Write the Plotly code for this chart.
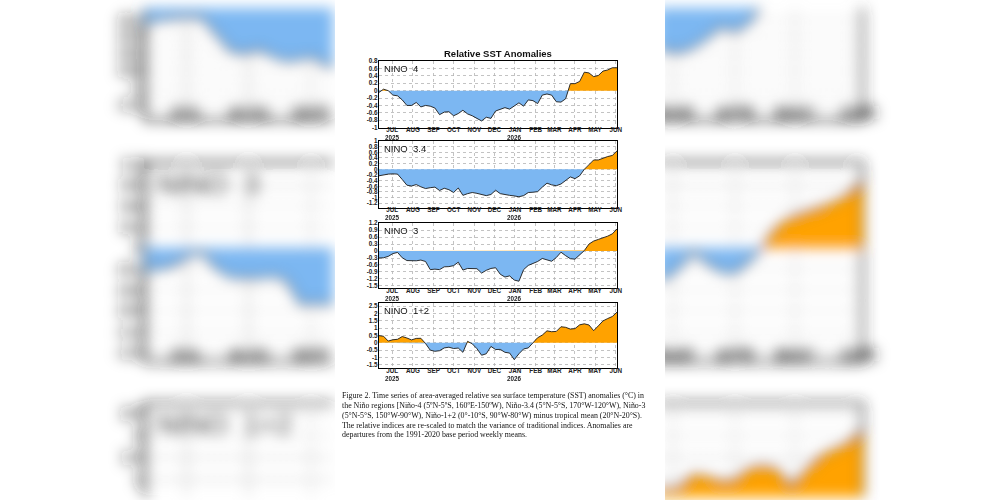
import json
import numpy as np
import pandas as pd
import plotly.graph_objects as go

W, H = 1000, 500

# ---------------- data ----------------
chart_title = "Relative SST Anomalies"
panel_labels = ["NINO  4", "NINO  3.4", "NINO  3", "NINO  1+2"]
week_dates = pd.date_range("2025-06-11", periods=52, freq="7D")
month_ticks = pd.date_range("2025-07-01", "2026-06-01", freq="MS")
month_labels = ["JUL", "AUG", "SEP", "OCT", "NOV", "DEC", "JAN", "FEB", "MAR", "APR", "MAY", "JUN"]
year_ticks = pd.to_datetime(["2025-07-01", "2026-01-01"])
year_labels = ["2025", "2026"]

nino4 = [-0.05, 0.04, 0.00, -0.12, -0.14, -0.25, -0.40, -0.40, -0.32, -0.44, -0.40, -0.42, -0.47,
         -0.65, -0.58, -0.57, -0.68, -0.62, -0.53, -0.63, -0.68, -0.76, -0.82, -0.72, -0.75, -0.55,
         -0.50, -0.46, -0.50, -0.42, -0.33, -0.42, -0.25, -0.27, -0.35, -0.12, -0.09, -0.12, -0.30,
         -0.31, -0.22, 0.19, 0.19, 0.25, 0.50, 0.48, 0.38, 0.41, 0.53, 0.56, 0.62, 0.62]
nino34 = [-0.23, -0.19, -0.17, -0.16, -0.17, -0.36, -0.56, -0.59, -0.54, -0.62, -0.68, -0.65, -0.63,
          -0.75, -0.67, -0.72, -0.82, -0.66, -0.92, -0.86, -0.82, -0.85, -0.90, -0.93, -0.89, -0.74,
          -0.86, -0.90, -0.92, -0.94, -0.97, -0.93, -0.82, -0.81, -0.79, -0.63, -0.49, -0.55, -0.58,
          -0.52, -0.41, -0.27, -0.33, -0.23, 0.00, 0.15, 0.33, 0.33, 0.40, 0.45, 0.49, 0.65]
nino3 = [-0.30, -0.29, -0.23, -0.11, -0.06, -0.29, -0.41, -0.42, -0.42, -0.39, -0.45, -0.80, -0.78,
         -0.80, -0.68, -0.67, -0.63, -0.48, -0.82, -0.75, -0.75, -0.76, -0.95, -0.83, -0.75, -0.72,
         -1.00, -1.12, -1.07, -1.25, -1.30, -0.80, -0.62, -0.55, -0.45, -0.32, -0.38, -0.44, -0.28,
         -0.05, -0.20, -0.33, -0.35, -0.18, 0.02, 0.30, 0.43, 0.50, 0.56, 0.64, 0.74, 0.95]
nino12 = [0.49, 0.45, 0.12, 0.21, 0.24, 0.43, 0.33, 0.20, 0.30, 0.31, -0.05, -0.50, -0.58, -0.54,
          -0.35, -0.30, -0.39, -0.36, -0.65, 0.10, -0.07, -0.40, -0.85, -0.75, -0.25, -0.46, -0.45,
          -0.65, -0.70, -1.15, -0.75, -0.42, -0.35, 0.00, 0.35, 0.53, 0.82, 0.76, 0.78, 1.10, 1.06,
          0.94, 0.97, 1.23, 1.30, 1.22, 0.83, 1.16, 1.50, 1.66, 1.80, 2.10]
series = [nino4, nino34, nino3, nino12]

y_ranges = [(-1.0, 0.8), (-1.35, 1.0), (-1.6, 1.2), (-1.75, 2.7)]
y_tickvals = [
    [0.8, 0.6, 0.4, 0.2, 0, -0.2, -0.4, -0.6, -0.8, -1.0],
    [1.0, 0.8, 0.6, 0.4, 0.2, 0, -0.2, -0.4, -0.6, -0.8, -1.0, -1.2],
    [1.2, 0.9, 0.6, 0.3, 0, -0.3, -0.6, -0.9, -1.2, -1.5],
    [2.5, 2.0, 1.5, 1.0, 0.5, 0, -0.5, -1.0, -1.5],
]
y_ticktext = [
    ["0.8", "0.6", "0.4", "0.2", "0", "-0.2", "-0.4", "-0.6", "-0.8", "-1"],
    ["1", "0.8", "0.6", "0.4", "0.2", "0", "-0.2", "-0.4", "-0.6", "-0.8", "-1", "-1.2"],
    ["1.2", "0.9", "0.6", "0.3", "0", "-0.3", "-0.6", "-0.9", "-1.2", "-1.5"],
    ["2.5", "2", "1.5", "1", "0.5", "0", "-0.5", "-1", "-1.5"],
]

caption_lines = [
    "Figure 2. Time series of area-averaged relative sea surface temperature (SST) anomalies (°C) in",
    "the Niño regions [Niño-4 (5ºN-5ºS, 160ºE-150ºW), Niño-3.4 (5°N-5°S, 170°W-120°W), Niño-3",
    "(5°N-5°S, 150°W-90°W), Niño-1+2 (0°-10°S, 90°W-80°W) minus tropical mean (20°N-20°S).",
    "The relative indices are re-scaled to match the variance of traditional indices. Anomalies are",
    "departures from the 1991-2020 base period weekly means.",
]

# ---------------- styling / layout ----------------
FONT = "Liberation Sans"
SERIF = "Liberation Serif"
ORANGE = "#ffa200"
BLUE = "#7cb7f2"
GRID = "#b4b4b4"
TICKC = "#222222"

BOX_L, BOX_R = 381.5, 624.5
BOX_TB = [(54.3, 122.3), (136.0, 204.0), (220.0, 286.5), (302.0, 368.5)]
SCALE = 3.0
CX, CY = 500.0, 250.0
STRIPS = [("L", 0.0, 335.0), ("R", 665.0, 1000.0)]
BLUR = 7
MONTH_STANDOFF = {1.0: -4, 3.0: -24}
YTICK_SIZE = {1.0: 6.3, 3.0: 16.0}

x_days = np.array((week_dates - week_dates[0]).days, dtype=float)
x_range = (x_days[0], x_days[-1])
month_vals = list((month_ticks - week_dates[0]).days)
year_vals = list((year_ticks - week_dates[0]).days)


def with_crossings(x, v):
    xa, va = [x[0]], [v[0]]
    for i in range(1, len(v)):
        a, b = v[i - 1], v[i]
        if a * b < 0:
            t = a / (a - b)
            xa.append(x[i - 1] + t * (x[i] - x[i - 1]))
            va.append(0.0)
        xa.append(x[i])
        va.append(b)
    return np.array(xa), np.array(va)


fig = go.Figure()
layout_axes = {}
annotations = []
blur_groups = {"L": [], "R": []}


def ax_names(k):
    return ("x" if k == 1 else f"x{k}", "y" if k == 1 else f"y{k}")


def add_panel(k, p, xpx, ypx, xr, yr, s, xopts, yopts, texts):
    xn, yn = ax_names(k)
    layout_axes["xaxis" if k == 1 else f"xaxis{k}"] = dict(
        domain=[xpx[0] / W, xpx[1] / W], range=list(xr), anchor=yn,
        tickmode="array", tickvals=month_vals, ticktext=month_labels,
        tickfont=dict(size=6.3 * s, family=FONT, color=TICKC, weight=600),
        ticklabelstandoff=MONTH_STANDOFF[s],
        showgrid=True, gridcolor=GRID, griddash="dot", gridwidth=0.8 * s,
        linecolor="black", linewidth=1.0 * s, ticks="", zeroline=False, fixedrange=True,
        **xopts)
    layout_axes["yaxis" if k == 1 else f"yaxis{k}"] = dict(
        domain=[1 - ypx[1] / H, 1 - ypx[0] / H], range=list(yr), anchor=xn,
        tickmode="array", tickvals=y_tickvals[p], ticktext=y_ticktext[p],
        tickfont=dict(size=YTICK_SIZE[s], family=FONT, color=TICKC, weight=600),
        ticklabelstandoff=int(round(-1 * s)),
        showgrid=True, gridcolor=GRID, griddash="dot", gridwidth=0.8 * s,
        linecolor="black", linewidth=1.0 * s, ticks="", zeroline=False, fixedrange=True,
        **yopts)
    xa, va = with_crossings(x_days, np.array(series[p], dtype=float))
    fig.add_trace(go.Scatter(x=xa, y=np.maximum(va, 0), mode="lines", fill="tozeroy",
                             fillcolor=ORANGE, line=dict(width=0), xaxis=xn, yaxis=yn,
                             hoverinfo="skip", showlegend=False))
    fig.add_trace(go.Scatter(x=xa, y=np.minimum(va, 0), mode="lines", fill="tozeroy",
                             fillcolor=BLUE, line=dict(width=0), xaxis=xn, yaxis=yn,
                             hoverinfo="skip", showlegend=False))
    fig.add_trace(go.Scatter(x=x_days, y=series[p], mode="lines",
                             line=dict(color="#1a1a1a", width=0.9 * s), xaxis=xn, yaxis=yn,
                             hoverinfo="skip", showlegend=False))
    for (tx, ty, txt, fs, pos, wt) in texts:
        fig.add_trace(go.Scatter(x=[tx], y=[ty], mode="text", text=[txt], textposition=pos,
                                 textfont=dict(size=fs * s, family=FONT, color=TICKC, weight=wt),
                                 cliponaxis=False, xaxis=xn, yaxis=yn, hoverinfo="skip",
                                 showlegend=False))


# main (sharp) panels
for p in range(4):
    top, bot = BOX_TB[p]
    add_panel(p + 1, p, (BOX_L, BOX_R), (top, bot), x_range, y_ranges[p], 1.0,
              dict(showline=True, mirror=True, side="bottom", showticklabels=True),
              dict(showline=True, mirror=True, side="left", showticklabels=True), [])
    annotations.append(dict(text=panel_labels[p], x=385 / W, y=1 - (top + 7.5) / H,
                            xref="paper", yref="paper", xanchor="left", yanchor="middle",
                            showarrow=False, font=dict(size=9.5, family=FONT, color="#111")))
    xn, yn = ax_names(p + 1)
    for yv, yl in zip(year_vals, year_labels):
        annotations.append(dict(text=yl, x=yv, y=1 - (bot + 10.3) / H, xref=xn, yref="paper",
                                xanchor="center", yanchor="middle", showarrow=False,
                                font=dict(size=6.3, family=FONT, color=TICKC, weight=600)))

# background: the same figure enlarged 3x about the centre, only on the side strips
k = 5
for p in range(4):
    top, bot = BOX_TB[p]
    Yt, Yb = CY + SCALE * (top - CY), CY + SCALE * (bot - CY)
    Xl, Xr = CX + SCALE * (BOX_L - CX), CX + SCALE * (BOX_R - CX)
    vmin, vmax = y_ranges[p]

    def yval(Y):
        return vmax - (Y - Yt) / (Yb - Yt) * (vmax - vmin)

    def xval(X):
        return x_range[0] + (X - Xl) / (Xr - Xl) * (x_range[1] - x_range[0])

    ya, yb = max(Yt, 0.0), min(Yb, H)
    if yb <= ya + 1:
        continue
    for name, s0, s1 in STRIPS:
        xa_, xb_ = max(Xl, s0), min(Xr, s1)
        if xb_ <= xa_ + 1:
            continue
        top_real, bot_real = Yt >= 0, Yb <= H
        if bot_real:
            xopts = dict(showline=True, mirror=top_real, side="bottom", showticklabels=True)
        else:
            xopts = dict(showline=top_real, mirror=False, side="top", showticklabels=False)
        if name == "L":
            yopts = dict(showline=True, mirror=False, side="left", showticklabels=True)
        else:
            yopts = dict(showline=True, mirror=False, side="right", showticklabels=False)
        texts = []
        lab_X, lab_Y = CX + SCALE * (385 - CX), CY + SCALE * (top + 7.5 - CY)
        if s0 <= lab_X < s1 and 0 <= lab_Y <= H:
            texts.append((xval(lab_X), yval(lab_Y), panel_labels[p], 9.5, "middle right", 400))
        for yv, yl in zip(year_vals, year_labels):
            Xy = Xl + (yv - x_range[0]) / (x_range[1] - x_range[0]) * (Xr - Xl)
            Yy = CY + SCALE * (bot + 10.3 - CY)
            if s0 <= Xy < s1 and Yy <= H + 20:
                texts.append((yv, yval(Yy), yl, 6.3, "middle center", 600))
        add_panel(k, p, (xa_, xb_), (ya, yb), (xval(xa_), xval(xb_)), (yval(yb), yval(ya)),
                  SCALE, xopts, yopts, texts)
        blur_groups[name].append(f"x{k}y{k}")
        k += 1

annotations.append(dict(text=chart_title, x=503 / W, y=1 - 46.5 / H, xref="paper", yref="paper",
                        xanchor="center", yanchor="middle", showarrow=False,
                        font=dict(size=9.5, family=FONT, color="#111", weight=700)))
for i, line in enumerate(caption_lines):
    annotations.append(dict(text=line, x=342 / W, y=1 - (396.5 + i * 10.0) / H, xref="paper",
                            yref="paper", xanchor="left", yanchor="middle", showarrow=False,
                            font=dict(size=7.9, family=SERIF, color="#111")))

fig.update_layout(
    width=W, height=H, margin=dict(l=0, r=0, t=0, b=0),
    paper_bgcolor="white", plot_bgcolor="white", showlegend=False,
    annotations=annotations, **layout_axes)

groups = [dict(name=n, x=s0, w=s1 - s0, ids=blur_groups[n]) for n, s0, s1 in STRIPS]
blur_js = """
(function(){
  var gd = document.getElementById('{plot_id}');
  var NS = 'http://www.w3.org/2000/svg';
  var groups = GROUPS;
  function apply(){
    var svg = gd.querySelector('svg.main-svg');
    if(!svg) return;
    var defs = svg.querySelector('defs');
    groups.forEach(function(g){
      var fid = 'bgblur-' + g.name;
      if(!document.getElementById(fid)){
        var f = document.createElementNS(NS, 'filter');
        f.setAttribute('id', fid);
        f.setAttribute('filterUnits', 'userSpaceOnUse');
        f.setAttribute('x', g.x); f.setAttribute('y', 0);
        f.setAttribute('width', g.w); f.setAttribute('height', HEIGHT);
        var b = document.createElementNS(NS, 'feGaussianBlur');
        b.setAttribute('stdDeviation', 'BLURSD');
        f.appendChild(b); defs.appendChild(f);
      }
      g.ids.forEach(function(id){
        var el = svg.querySelector('g.subplot.' + id);
        if(el) el.setAttribute('filter', 'url(#' + fid + ')');
      });
    });
  }
  apply();
  gd.on('plotly_afterplot', apply);
})();
""".replace("GROUPS", json.dumps(groups)).replace("HEIGHT", str(H)).replace("BLURSD", str(BLUR))

fig.write_html("out.html", post_script=blur_js, config=dict(displayModeBar=False, staticPlot=True))
